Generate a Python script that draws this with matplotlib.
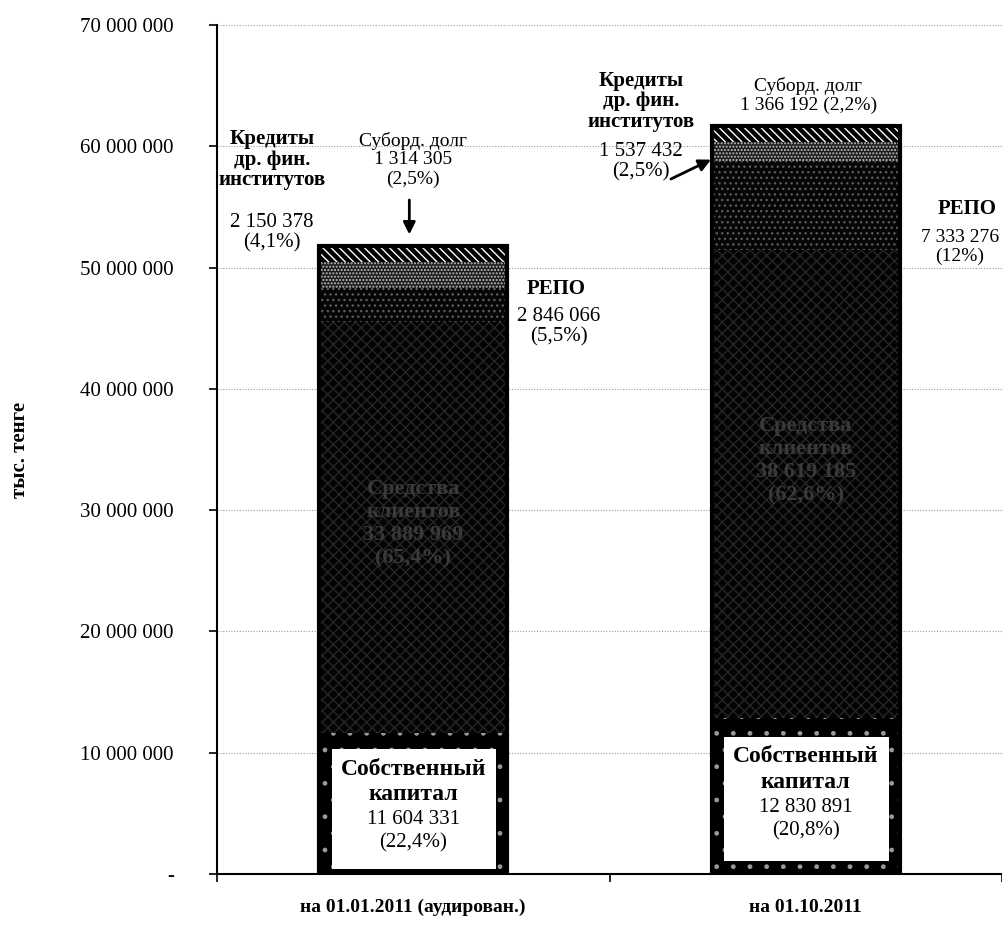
import matplotlib
matplotlib.use("Agg")
import matplotlib.pyplot as plt
from matplotlib.patches import Rectangle
import numpy as np

categories = ["на 01.01.2011 (аудирован.)", "на 01.10.2011"]
equity = [11604331, 12830891]
deposits = [33889969, 38619185]
repo = [2846066, 7333276]
loans = [2150378, 1537432]
subord = [1314305, 1366192]

equity_pct = ["(22,4%)", "(20,8%)"]
deposits_pct = ["(65,4%)", "(62,6%)"]
repo_pct = ["(5,5%)", "(12%)"]
loans_pct = ["(4,1%)", "(2,5%)"]
subord_pct = ["(2,5%)", "(2,2%)"]

yticks = [0, 10000000, 20000000, 30000000, 40000000, 50000000, 60000000, 70000000]

plt.rcParams['font.family'] = ['Liberation Serif', 'DejaVu Serif']
plt.rcParams['hatch.linewidth'] = 1.0

def fmt(v):
    return f"{v:,}".replace(",", " ")

fig = plt.figure(figsize=(10.02, 9.25), dpi=100)
ax = fig.add_axes([217/1002, 1-874/925, (1002-217)/1002, (874-25)/925])

x = np.arange(len(categories))
w = 0.48
segments = [
    (equity, '#000000', '#9a9a9a', '.'),
    (deposits, '#030303', '#262626', 'xxx'),
    (repo, '#060606', '#5a5a5a', '...'),
    (loans, '#1a1a1a', '#c0c0c0', '.....'),
    (subord, '#000000', '#ffffff', '\\\\\\\\'),
]
bottom = np.zeros(len(categories))
for vals, fc, hc, hatch in segments:
    ax.bar(x, vals, w, bottom=bottom, color=fc, edgecolor=hc, hatch=hatch, linewidth=0, zorder=2)
    bottom += np.array(vals)
ax.bar(x, bottom, w, fill=False, edgecolor='black', linewidth=3, zorder=3)

ax.set_xlim(-0.5, 1.5)
ax.set_ylim(0, 70000000)
ax.set_yticks(yticks)
ax.set_yticklabels(["-" if v == 0 else fmt(v) for v in yticks], fontsize=15)
ax.yaxis.grid(True, linestyle=(0, (1, 1.5)), color='#999999', linewidth=0.8, zorder=0)
ax.set_xticks(x)
ax.set_xticklabels(categories, fontsize=14, fontweight='bold')
ax.tick_params(axis='x', length=0, pad=18)
ax.set_xticks([-0.5, 0.5, 1.5], minor=True)
ax.tick_params(axis='x', which='minor', length=6, width=1.2, direction='out')
ax.tick_params(axis='y', length=6, width=1.2, direction='out', pad=25)
for s in ['top', 'right']:
    ax.spines[s].set_visible(False)
ax.spines['left'].set_linewidth(1.5)
ax.spines['bottom'].set_linewidth(1.5)
ax.set_ylabel("тыс. тенге", fontsize=15, fontweight='bold', labelpad=36)

# equity white boxes + labels
box_lo = [0.035, 0.085]
box_hi = [0.885, 0.88]
for i in range(2):
    ax.add_patch(Rectangle((x[i] - 0.208, equity[i] * box_lo[i]), 0.42,
                           equity[i] * (box_hi[i] - box_lo[i]),
                           facecolor='white', edgecolor='none', zorder=4))
    top = equity[i] * box_hi[i]
    ax.text(x[i], top - 0.75e6, "Собственный\nкапитал", ha='center', va='top',
            fontsize=17, fontweight='bold', linespacing=1.3, zorder=5)
    ax.text(x[i], top - 5.0e6, f"{fmt(equity[i])}\n{equity_pct[i]}", ha='center', va='top',
            fontsize=15, linespacing=1.3, zorder=5)
    # deposits text (faint)
    mid = equity[i] + deposits[i] * (0.51 if i == 0 else 0.55)
    ax.text(x[i], mid, f"Средства\nклиентов\n{fmt(deposits[i])}\n{deposits_pct[i]}",
            ha='center', va='center', fontsize=16, fontweight='bold', color='#3a3a3a',
            linespacing=1.2, zorder=5)

# bar 1 annotations
ax.text(-0.36, 58.9e6, "Кредиты\nдр. фин.\nинститутов", ha='center', va='center',
        fontsize=15, fontweight='bold', linespacing=1.05)
ax.text(-0.36, 52.9e6, f"{fmt(loans[0])}\n{loans_pct[0]}", ha='center', va='center',
        fontsize=15, linespacing=1.1)
ax.text(0.0, 58.9e6, f"Суборд. долг\n{fmt(subord[0])}\n{subord_pct[0]}", ha='center', va='center',
        fontsize=14, linespacing=1.15)
ax.annotate("", xy=(-0.01, 52.5e6), xytext=(-0.01, 55.8e6),
            arrowprops=dict(arrowstyle='-|>', color='black', lw=2, mutation_scale=18))
ax.text(0.365, 48.2e6, "РЕПО", ha='center', va='center', fontsize=15, fontweight='bold')
ax.text(0.37, 45.1e6, f"{fmt(repo[0])}\n{repo_pct[0]}", ha='center', va='center',
        fontsize=15, linespacing=1.1)

# bar 2 annotations
ax.text(0.58, 63.7e6, "Кредиты\nдр. фин.\nинститутов", ha='center', va='center',
        fontsize=15, fontweight='bold', linespacing=1.05)
ax.text(0.58, 58.7e6, f"{fmt(loans[1])}\n{loans_pct[1]}", ha='center', va='center',
        fontsize=15, linespacing=1.1)
ax.annotate("", xy=(0.765, 59.0e6), xytext=(0.65, 57.2e6),
            arrowprops=dict(arrowstyle='-|>', color='black', lw=2, mutation_scale=18))
ax.text(1.007, 64.2e6, f"Суборд. долг\n{fmt(subord[1])} {subord_pct[1]}", ha='center', va='center',
        fontsize=14, linespacing=1.15)
ax.text(1.41, 54.8e6, "РЕПО", ha='center', va='center', fontsize=15, fontweight='bold')
ax.text(1.392, 51.7e6, f"{fmt(repo[1])}\n{repo_pct[1]}", ha='center', va='center',
        fontsize=14, linespacing=1.15, clip_on=False)

fig.savefig("out.png", dpi=100, facecolor='white')
